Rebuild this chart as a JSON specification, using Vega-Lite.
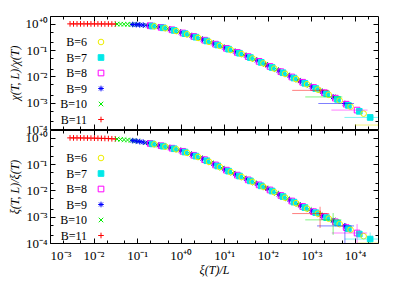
{
"$schema": "https://vega.github.io/schema/vega-lite/v6.json",
"padding": {"left": 7, "top": 15, "right": 5, "bottom": 2},
"background": "white",
"bounds": "flush",
"config": {
  "view": {"stroke": "#000000", "strokeWidth": 1},
  "axis": {"labelFont": "Liberation Serif", "titleFont": "Liberation Serif", "labelFontSize": 13, "titleFontSize": 12, "titleFontWeight": "normal", "labelColor": "#000000", "titleColor": "#000000", "tickColor": "#000000", "domain": false, "grid": false},
  "legend": {"labelFont": "Liberation Serif", "labelFontSize": 12, "labelColor": "#000000"}
},
"datasets": {
"pts": [
{"B":"11","lx":-2.54,"chi":0,"xi":0},{"B":"11","lx":-2.46,"chi":0,"xi":-0.001},{"B":"11","lx":-2.38,"chi":0,"xi":-0.002},{"B":"11","lx":-2.30,"chi":0,"xi":-0.003},{"B":"11","lx":-2.22,"chi":0,"xi":-0.005},{"B":"11","lx":-2.14,"chi":0,"xi":-0.007},{"B":"11","lx":-2.06,"chi":-0.001,"xi":-0.009},{"B":"11","lx":-1.98,"chi":-0.001,"xi":-0.011},{"B":"11","lx":-1.90,"chi":-0.002,"xi":-0.014},{"B":"11","lx":-1.82,"chi":-0.002,"xi":-0.017},{"B":"11","lx":-1.74,"chi":-0.003,"xi":-0.021},{"B":"11","lx":-1.66,"chi":-0.004,"xi":-0.026},{"B":"11","lx":-1.58,"chi":-0.005,"xi":-0.034},{"B":"11","lx":-1.50,"chi":-0.006,"xi":-0.040},{"B":"11","lx":1.95,"chi":-1.542,"xi":-1.902},{"B":"11","lx":2.28,"chi":-1.804,"xi":-2.175},{"B":"11","lx":2.70,"chi":-2.140,"xi":-2.528},{"B":"11","lx":3.20,"chi":-2.53,"xi":-2.88},
{"B":"10","lx":-1.46,"chi":-0.007,"xi":-0.046},{"B":"10","lx":-1.38,"chi":-0.010,"xi":-0.057},{"B":"10","lx":-1.30,"chi":-0.013,"xi":-0.068},{"B":"10","lx":-1.22,"chi":-0.017,"xi":-0.081},{"B":"10","lx":-1.14,"chi":-0.022,"xi":-0.097},{"B":"10","lx":-1.06,"chi":-0.026,"xi":-0.113},{"B":"10","lx":-0.98,"chi":-0.032,"xi":-0.131},{"B":"10","lx":-0.80,"chi":-0.054,"xi":-0.181},{"B":"10","lx":-0.55,"chi":-0.104,"xi":-0.263},{"B":"10","lx":-0.30,"chi":-0.183,"xi":-0.352},{"B":"10","lx":-0.05,"chi":-0.296,"xi":-0.458},{"B":"10","lx":0.20,"chi":-0.424,"xi":-0.600},{"B":"10","lx":0.45,"chi":-0.562,"xi":-0.758},{"B":"10","lx":0.70,"chi":-0.710,"xi":-0.950},{"B":"10","lx":0.95,"chi":-0.868,"xi":-1.150},{"B":"10","lx":1.20,"chi":-1.024,"xi":-1.342},{"B":"10","lx":1.45,"chi":-1.179,"xi":-1.524},{"B":"10","lx":1.70,"chi":-1.354,"xi":-1.712},{"B":"10","lx":1.95,"chi":-1.542,"xi":-1.902},{"B":"10","lx":2.20,"chi":-1.740,"xi":-2.108},{"B":"10","lx":2.45,"chi":-1.940,"xi":-2.318},{"B":"10","lx":2.70,"chi":-2.140,"xi":-2.528},{"B":"10","lx":2.95,"chi":-2.340,"xi":-2.730},{"B":"10","lx":3.20,"chi":-2.540,"xi":-2.922},{"B":"10","lx":3.50,"chi":-2.78,"xi":-3.12},
{"B":"9","lx":-1.10,"chi":-0.024,"xi":-0.105},{"B":"9","lx":-1.02,"chi":-0.029,"xi":-0.121},{"B":"9","lx":-0.94,"chi":-0.037,"xi":-0.142},{"B":"9","lx":-0.86,"chi":-0.047,"xi":-0.164},{"B":"9","lx":-0.75,"chi":-0.060,"xi":-0.195},{"B":"9","lx":-0.50,"chi":-0.115,"xi":-0.280},{"B":"9","lx":-0.25,"chi":-0.200,"xi":-0.370},{"B":"9","lx":0.00,"chi":-0.320,"xi":-0.480},{"B":"9","lx":0.25,"chi":-0.450,"xi":-0.630},{"B":"9","lx":0.50,"chi":-0.590,"xi":-0.790},{"B":"9","lx":0.75,"chi":-0.740,"xi":-0.990},{"B":"9","lx":1.00,"chi":-0.900,"xi":-1.190},{"B":"9","lx":1.25,"chi":-1.055,"xi":-1.380},{"B":"9","lx":1.50,"chi":-1.210,"xi":-1.560},{"B":"9","lx":1.75,"chi":-1.390,"xi":-1.750},{"B":"9","lx":2.00,"chi":-1.580,"xi":-1.940},{"B":"9","lx":2.25,"chi":-1.780,"xi":-2.150},{"B":"9","lx":2.50,"chi":-1.980,"xi":-2.360},{"B":"9","lx":2.75,"chi":-2.180,"xi":-2.570},{"B":"9","lx":3.00,"chi":-2.380,"xi":-2.770},{"B":"9","lx":3.25,"chi":-2.580,"xi":-2.960},{"B":"9","lx":3.50,"chi":-2.780,"xi":-3.150},{"B":"9","lx":3.77,"chi":-3.03,"xi":-3.35},
{"B":"8","lx":-0.70,"chi":-0.071,"xi":-0.212},{"B":"8","lx":-0.45,"chi":-0.132,"xi":-0.298},{"B":"8","lx":-0.20,"chi":-0.224,"xi":-0.392},{"B":"8","lx":0.05,"chi":-0.346,"xi":-0.510},{"B":"8","lx":0.30,"chi":-0.478,"xi":-0.662},{"B":"8","lx":0.55,"chi":-0.620,"xi":-0.830},{"B":"8","lx":0.80,"chi":-0.772,"xi":-1.030},{"B":"8","lx":1.05,"chi":-0.931,"xi":-1.228},{"B":"8","lx":1.30,"chi":-1.086,"xi":-1.416},{"B":"8","lx":1.55,"chi":-1.246,"xi":-1.598},{"B":"8","lx":1.80,"chi":-1.428,"xi":-1.788},{"B":"8","lx":2.05,"chi":-1.620,"xi":-1.982},{"B":"8","lx":2.30,"chi":-1.820,"xi":-2.192},{"B":"8","lx":2.55,"chi":-2.020,"xi":-2.402},{"B":"8","lx":2.80,"chi":-2.220,"xi":-2.610},{"B":"8","lx":3.05,"chi":-2.420,"xi":-2.808},{"B":"8","lx":3.30,"chi":-2.620,"xi":-2.998},{"B":"8","lx":3.55,"chi":-2.826,"xi":-3.194},{"B":"8","lx":3.80,"chi":-3.056,"xi":-3.412},{"B":"8","lx":4.05,"chi":-3.28,"xi":-3.62},
{"B":"7","lx":-0.65,"chi":-0.082,"xi":-0.229},{"B":"7","lx":-0.40,"chi":-0.149,"xi":-0.316},{"B":"7","lx":-0.15,"chi":-0.248,"xi":-0.414},{"B":"7","lx":0.10,"chi":-0.372,"xi":-0.540},{"B":"7","lx":0.35,"chi":-0.506,"xi":-0.694},{"B":"7","lx":0.60,"chi":-0.650,"xi":-0.870},{"B":"7","lx":0.85,"chi":-0.804,"xi":-1.070},{"B":"7","lx":1.10,"chi":-0.962,"xi":-1.266},{"B":"7","lx":1.35,"chi":-1.117,"xi":-1.452},{"B":"7","lx":1.60,"chi":-1.282,"xi":-1.636},{"B":"7","lx":1.85,"chi":-1.466,"xi":-1.826},{"B":"7","lx":2.10,"chi":-1.660,"xi":-2.024},{"B":"7","lx":2.35,"chi":-1.860,"xi":-2.234},{"B":"7","lx":2.60,"chi":-2.060,"xi":-2.444},{"B":"7","lx":2.85,"chi":-2.260,"xi":-2.650},{"B":"7","lx":3.10,"chi":-2.460,"xi":-2.846},{"B":"7","lx":3.35,"chi":-2.660,"xi":-3.036},{"B":"7","lx":3.60,"chi":-2.872,"xi":-3.238},{"B":"7","lx":3.85,"chi":-3.102,"xi":-3.454},{"B":"7","lx":4.10,"chi":-3.328,"xi":-3.660},{"B":"7","lx":4.35,"chi":-3.56,"xi":-3.85},
{"B":"6","lx":-0.60,"chi":-0.093,"xi":-0.246},{"B":"6","lx":-0.35,"chi":-0.166,"xi":-0.334},{"B":"6","lx":-0.10,"chi":-0.272,"xi":-0.436},{"B":"6","lx":0.15,"chi":-0.398,"xi":-0.570},{"B":"6","lx":0.40,"chi":-0.534,"xi":-0.726},{"B":"6","lx":0.65,"chi":-0.680,"xi":-0.910},{"B":"6","lx":0.90,"chi":-0.836,"xi":-1.110},{"B":"6","lx":1.15,"chi":-0.993,"xi":-1.304},{"B":"6","lx":1.40,"chi":-1.148,"xi":-1.488},{"B":"6","lx":1.65,"chi":-1.318,"xi":-1.674},{"B":"6","lx":1.90,"chi":-1.504,"xi":-1.864},{"B":"6","lx":2.15,"chi":-1.700,"xi":-2.066},{"B":"6","lx":2.40,"chi":-1.900,"xi":-2.276},{"B":"6","lx":2.65,"chi":-2.100,"xi":-2.486},{"B":"6","lx":2.90,"chi":-2.300,"xi":-2.690},{"B":"6","lx":3.15,"chi":-2.500,"xi":-2.884},{"B":"6","lx":3.40,"chi":-2.700,"xi":-3.074},{"B":"6","lx":3.65,"chi":-2.918,"xi":-3.282},{"B":"6","lx":3.90,"chi":-3.148,"xi":-3.496},{"B":"6","lx":4.20,"chi":-3.416,"xi":-3.740},{"B":"6","lx":4.60,"chi":-3.85,"xi":-4.0}
],
"err": [
{"B":"11","lx":3.2,"chi":-2.53,"xi":-2.88,"txlo":2.56,"txhi":3.40,"bxlo":2.56,"bxhi":3.41,"bylo":-3.43,"byhi":-2.62},
{"B":"10","lx":3.5,"chi":-2.78,"xi":-3.12,"txlo":2.86,"txhi":3.71,"bxlo":2.86,"bxhi":3.69,"bylo":-3.69,"byhi":-2.86},
{"B":"9","lx":3.77,"chi":-3.03,"xi":-3.35,"txlo":3.16,"txhi":3.98,"bxlo":3.13,"bxhi":3.98,"bylo":-4.5,"byhi":-3.24},
{"B":"8","lx":4.05,"chi":-3.28,"xi":-3.62,"txlo":3.46,"txhi":4.29,"bxlo":3.47,"bxhi":4.28,"bylo":-4.5,"byhi":-3.28},
{"B":"7","lx":4.35,"chi":-3.56,"xi":-3.85,"txlo":3.76,"txhi":4.6,"bxlo":3.77,"bxhi":4.6,"bylo":-4.5,"byhi":-3.6},
{"B":"6","lx":4.6,"chi":-3.85,"xi":-4.0,"txlo":4.0,"txhi":5.0,"bxlo":4.05,"bxhi":5.0,"bylo":-4.5,"byhi":-3.75}
]
},
"spacing": 1,
"resolve": {"legend": {"stroke": "independent", "fill": "independent", "shape": "independent"}},
"vconcat": [
{
 "width": 328, "height": 113,
 "resolve": {"axis": {"x": "independent", "y": "independent"}},
 "layer": [
  {"data": {"name": "pts"}, "mark": {"type": "point", "clip": true, "size": 32, "strokeWidth": 1, "opacity": 1},
   "encoding": {
    "x": {"field": "lx", "type": "quantitative", "scale": {"domain": [-3, 4.53], "nice": false, "zero": false}, "axis": {"orient": "bottom", "values": [-3,-2,-1,0,1,2,3,4], "labels": false, "ticks": false, "title": null}},
    "y": {"field": "chi", "type": "quantitative", "scale": {"domain": [-4, 0.3], "nice": false, "zero": false}, "axis": {"orient": "left", "values": [-4,-3,-2,-1,0], "ticks": false, "labelPadding": 3, "labelExpr": "'10' + (datum.value < 0 ? '⁻' : '⁺') + ['⁰','¹','²','³','⁴'][abs(datum.value)]", "title": "χ(T, L)/χ(T)", "titleFontStyle": "italic", "titlePadding": 4}},
    "stroke": {"field": "B", "type": "nominal", "scale": {"domain": ["6","7","8","9","10","11"], "range": ["#eeee00","#00e8e8","#ff00ff","#0000ff","#00ee00","#ff0000"]}, "legend": {"orient": "none", "legendX": 45, "legendY": 20, "title": null, "labelAlign": "right", "labelOffset": -20, "rowPadding": 3.5, "symbolSize": 32, "symbolStrokeWidth": 1, "labelExpr": "'B=' + datum.label", "encode": {"symbols": {"update": {"shape": {"signal": "datum.value == '6' ? 'M-2.5,0H-1M1,0H2.5M1,0A1,1 0 1,0 -1,0A1,1 0 1,0 1,0' : (datum.value == '7' || datum.value == '8') ? 'M-2.5,0H-1M1,0H2.5M-1,-1H1V1H-1Z' : datum.value == '9' ? 'M-2.5,0H2.5M0,-1V1M-0.7,-0.7L0.7,0.7M-0.7,0.7L0.7,-0.7' : datum.value == '10' ? 'M-2.5,0H2.5M-0.8,-0.8L0.8,0.8M-0.8,0.8L0.8,-0.8' : 'M-2.5,0H2.5M0,-1V1'"}}}}}},
    "fill": {"field": "B", "type": "nominal", "scale": {"domain": ["6","7","8","9","10","11"], "range": ["transparent","#00e8e8","transparent","transparent","transparent","transparent"]}, "legend": {"orient": "none", "legendX": 45, "legendY": 20, "title": null, "labelAlign": "right", "labelOffset": -20, "rowPadding": 3.5, "symbolSize": 32, "symbolStrokeWidth": 1, "labelExpr": "'B=' + datum.label", "encode": {"symbols": {"update": {"shape": {"signal": "datum.value == '6' ? 'M-2.5,0H-1M1,0H2.5M1,0A1,1 0 1,0 -1,0A1,1 0 1,0 1,0' : (datum.value == '7' || datum.value == '8') ? 'M-2.5,0H-1M1,0H2.5M-1,-1H1V1H-1Z' : datum.value == '9' ? 'M-2.5,0H2.5M0,-1V1M-0.7,-0.7L0.7,0.7M-0.7,0.7L0.7,-0.7' : datum.value == '10' ? 'M-2.5,0H2.5M-0.8,-0.8L0.8,0.8M-0.8,0.8L0.8,-0.8' : 'M-2.5,0H2.5M0,-1V1'"}}}}}},
    "shape": {"field": "B", "type": "nominal", "scale": {"domain": ["6","7","8","9","10","11"], "range": ["circle","square","square","M-1,0L1,0M0,-1L0,1M-0.7,-0.7L0.7,0.7M-0.7,0.7L0.7,-0.7","M-0.8,-0.8L0.8,0.8M-0.8,0.8L0.8,-0.8","M-1,0L1,0M0,-1L0,1"]}, "legend": {"orient": "none", "legendX": 45, "legendY": 20, "title": null, "labelAlign": "right", "labelOffset": -20, "rowPadding": 3.5, "symbolSize": 32, "symbolStrokeWidth": 1, "labelExpr": "'B=' + datum.label", "encode": {"symbols": {"update": {"shape": {"signal": "datum.value == '6' ? 'M-2.5,0H-1M1,0H2.5M1,0A1,1 0 1,0 -1,0A1,1 0 1,0 1,0' : (datum.value == '7' || datum.value == '8') ? 'M-2.5,0H-1M1,0H2.5M-1,-1H1V1H-1Z' : datum.value == '9' ? 'M-2.5,0H2.5M0,-1V1M-0.7,-0.7L0.7,0.7M-0.7,0.7L0.7,-0.7' : datum.value == '10' ? 'M-2.5,0H2.5M-0.8,-0.8L0.8,0.8M-0.8,0.8L0.8,-0.8' : 'M-2.5,0H2.5M0,-1V1'"}}}}}}
   }},
  {"data": {"name": "err"}, "mark": {"type": "rule", "clip": true, "strokeWidth": 1, "opacity": 0.5},
   "encoding": {
    "x": {"field": "txlo", "type": "quantitative", "scale": {"domain": [-3, 4.53], "nice": false, "zero": false}, "axis": null},
    "x2": {"field": "txhi"},
    "y": {"field": "chi", "type": "quantitative", "scale": {"domain": [-4, 0.3], "nice": false, "zero": false}, "axis": null},
    "color": {"field": "B", "type": "nominal", "scale": {"domain": ["6","7","8","9","10","11"], "range": ["#eeee00","#00e8e8","#ff00ff","#0000ff","#00ee00","#ff0000"]}, "legend": null}
   }},
  {"data": {"name": "err"}, "mark": {"type": "point", "opacity": 0},
   "encoding": {
    "x": {"field": "lx", "type": "quantitative", "scale": {"domain": [-3, 4.53], "nice": false, "zero": false}, "axis": {"orient": "top", "values": [-3,-2,-1,0,1,2,3,4], "labels": false, "tickSize": -5, "title": null}},
    "y": {"field": "chi", "type": "quantitative", "scale": {"domain": [-4, 0.3], "nice": false, "zero": false}, "axis": {"orient": "right", "values": [-4,-3,-2,-1,0], "labels": false, "tickSize": -5, "title": null}}
   }},
  {"data": {"name": "err"}, "mark": {"type": "point", "opacity": 0},
   "encoding": {
    "x": {"field": "lx", "type": "quantitative", "scale": {"domain": [-3, 4.53], "nice": false, "zero": false}, "axis": {"orient": "bottom", "values": [-3,-2,-1,0,1,2,3,4], "labels": false, "tickSize": -5, "title": null}},
    "y": {"field": "chi", "type": "quantitative", "scale": {"domain": [-4, 0.3], "nice": false, "zero": false}, "axis": {"orient": "left", "values": [-4,-3,-2,-1,0], "labels": false, "tickSize": -5, "title": null}}
   }},
  {"data": {"name": "err"}, "mark": {"type": "point", "opacity": 0},
   "encoding": {
    "x": {"field": "lx", "type": "quantitative", "scale": {"domain": [-3, 4.53], "nice": false, "zero": false}, "axis": {"orient": "bottom", "values": [-2.699,-2.301,-1.699,-1.301,-0.699,-0.301,0.301,0.699,1.301,1.699,2.301,2.699,3.301,3.699,4.301], "labels": false, "tickSize": -3, "title": null}},
    "y": {"field": "chi", "type": "quantitative", "scale": {"domain": [-4, 0.3], "nice": false, "zero": false}, "axis": {"orient": "left", "values": [-3.699,-3.301,-2.699,-2.301,-1.699,-1.301,-0.699,-0.301], "labels": false, "tickSize": -3, "title": null}}
   }},
  {"data": {"name": "err"}, "mark": {"type": "point", "opacity": 0},
   "encoding": {
    "x": {"field": "lx", "type": "quantitative", "scale": {"domain": [-3, 4.53], "nice": false, "zero": false}, "axis": {"orient": "top", "values": [-2.699,-2.301,-1.699,-1.301,-0.699,-0.301,0.301,0.699,1.301,1.699,2.301,2.699,3.301,3.699,4.301], "labels": false, "tickSize": -3, "title": null}},
    "y": {"field": "chi", "type": "quantitative", "scale": {"domain": [-4, 0.3], "nice": false, "zero": false}, "axis": {"orient": "right", "values": [-3.699,-3.301,-2.699,-2.301,-1.699,-1.301,-0.699,-0.301], "labels": false, "tickSize": -3, "title": null}}
   }}
 ]
},
{
 "width": 328, "height": 113,
 "resolve": {"axis": {"x": "independent", "y": "independent"}},
 "layer": [
  {"data": {"name": "pts"}, "mark": {"type": "point", "clip": true, "size": 32, "strokeWidth": 1, "opacity": 1},
   "encoding": {
    "x": {"field": "lx", "type": "quantitative", "scale": {"domain": [-3, 4.53], "nice": false, "zero": false}, "axis": {"orient": "bottom", "values": [-3,-2,-1,0,1,2,3,4], "ticks": false, "labelPadding": 6, "labelExpr": "'10' + (datum.value < 0 ? '⁻' : '⁺') + ['⁰','¹','²','³','⁴'][abs(datum.value)]", "title": "ξ(T)/L", "titleFontStyle": "italic", "titlePadding": 2}},
    "y": {"field": "xi", "type": "quantitative", "scale": {"domain": [-4, 0.3], "nice": false, "zero": false}, "axis": {"orient": "left", "values": [-4,-3,-2,-1,0], "ticks": false, "labelPadding": 3, "labelExpr": "'10' + (datum.value < 0 ? '⁻' : '⁺') + ['⁰','¹','²','³','⁴'][abs(datum.value)]", "title": "ξ(T, L)/ξ(T)", "titleFontStyle": "italic", "titlePadding": 4}},
    "stroke": {"field": "B", "type": "nominal", "scale": {"domain": ["6","7","8","9","10","11"], "range": ["#eeee00","#00e8e8","#ff00ff","#0000ff","#00ee00","#ff0000"]}, "legend": {"orient": "none", "legendX": 45, "legendY": 22, "title": null, "labelAlign": "right", "labelOffset": -20, "rowPadding": 3.5, "symbolSize": 32, "symbolStrokeWidth": 1, "labelExpr": "'B=' + datum.label", "encode": {"symbols": {"update": {"shape": {"signal": "datum.value == '6' ? 'M-2.5,0H-1M1,0H2.5M1,0A1,1 0 1,0 -1,0A1,1 0 1,0 1,0' : (datum.value == '7' || datum.value == '8') ? 'M-2.5,0H-1M1,0H2.5M-1,-1H1V1H-1Z' : datum.value == '9' ? 'M-2.5,0H2.5M0,-1V1M-0.7,-0.7L0.7,0.7M-0.7,0.7L0.7,-0.7' : datum.value == '10' ? 'M-2.5,0H2.5M-0.8,-0.8L0.8,0.8M-0.8,0.8L0.8,-0.8' : 'M-2.5,0H2.5M0,-1V1'"}}}}}},
    "fill": {"field": "B", "type": "nominal", "scale": {"domain": ["6","7","8","9","10","11"], "range": ["transparent","#00e8e8","transparent","transparent","transparent","transparent"]}, "legend": {"orient": "none", "legendX": 45, "legendY": 22, "title": null, "labelAlign": "right", "labelOffset": -20, "rowPadding": 3.5, "symbolSize": 32, "symbolStrokeWidth": 1, "labelExpr": "'B=' + datum.label", "encode": {"symbols": {"update": {"shape": {"signal": "datum.value == '6' ? 'M-2.5,0H-1M1,0H2.5M1,0A1,1 0 1,0 -1,0A1,1 0 1,0 1,0' : (datum.value == '7' || datum.value == '8') ? 'M-2.5,0H-1M1,0H2.5M-1,-1H1V1H-1Z' : datum.value == '9' ? 'M-2.5,0H2.5M0,-1V1M-0.7,-0.7L0.7,0.7M-0.7,0.7L0.7,-0.7' : datum.value == '10' ? 'M-2.5,0H2.5M-0.8,-0.8L0.8,0.8M-0.8,0.8L0.8,-0.8' : 'M-2.5,0H2.5M0,-1V1'"}}}}}},
    "shape": {"field": "B", "type": "nominal", "scale": {"domain": ["6","7","8","9","10","11"], "range": ["circle","square","square","M-1,0L1,0M0,-1L0,1M-0.7,-0.7L0.7,0.7M-0.7,0.7L0.7,-0.7","M-0.8,-0.8L0.8,0.8M-0.8,0.8L0.8,-0.8","M-1,0L1,0M0,-1L0,1"]}, "legend": {"orient": "none", "legendX": 45, "legendY": 22, "title": null, "labelAlign": "right", "labelOffset": -20, "rowPadding": 3.5, "symbolSize": 32, "symbolStrokeWidth": 1, "labelExpr": "'B=' + datum.label", "encode": {"symbols": {"update": {"shape": {"signal": "datum.value == '6' ? 'M-2.5,0H-1M1,0H2.5M1,0A1,1 0 1,0 -1,0A1,1 0 1,0 1,0' : (datum.value == '7' || datum.value == '8') ? 'M-2.5,0H-1M1,0H2.5M-1,-1H1V1H-1Z' : datum.value == '9' ? 'M-2.5,0H2.5M0,-1V1M-0.7,-0.7L0.7,0.7M-0.7,0.7L0.7,-0.7' : datum.value == '10' ? 'M-2.5,0H2.5M-0.8,-0.8L0.8,0.8M-0.8,0.8L0.8,-0.8' : 'M-2.5,0H2.5M0,-1V1'"}}}}}}
   }},
  {"data": {"name": "err"}, "mark": {"type": "rule", "clip": true, "strokeWidth": 1, "opacity": 0.5},
   "encoding": {
    "x": {"field": "bxlo", "type": "quantitative", "scale": {"domain": [-3, 4.53], "nice": false, "zero": false}, "axis": null},
    "x2": {"field": "bxhi"},
    "y": {"field": "xi", "type": "quantitative", "scale": {"domain": [-4, 0.3], "nice": false, "zero": false}, "axis": null},
    "color": {"field": "B", "type": "nominal", "scale": {"domain": ["6","7","8","9","10","11"], "range": ["#eeee00","#00e8e8","#ff00ff","#0000ff","#00ee00","#ff0000"]}, "legend": null}
   }},
  {"data": {"name": "err"}, "mark": {"type": "rule", "clip": true, "strokeWidth": 1, "opacity": 0.5},
   "encoding": {
    "x": {"field": "lx", "type": "quantitative", "scale": {"domain": [-3, 4.53], "nice": false, "zero": false}, "axis": null},
    "y": {"field": "bylo", "type": "quantitative", "scale": {"domain": [-4, 0.3], "nice": false, "zero": false}, "axis": null},
    "y2": {"field": "byhi"},
    "color": {"field": "B", "type": "nominal", "scale": {"domain": ["6","7","8","9","10","11"], "range": ["#eeee00","#00e8e8","#ff00ff","#0000ff","#00ee00","#ff0000"]}, "legend": null}
   }},
  {"data": {"name": "err"}, "mark": {"type": "point", "opacity": 0},
   "encoding": {
    "x": {"field": "lx", "type": "quantitative", "scale": {"domain": [-3, 4.53], "nice": false, "zero": false}, "axis": {"orient": "top", "values": [-3,-2,-1,0,1,2,3,4], "labels": false, "tickSize": -5, "title": null}},
    "y": {"field": "xi", "type": "quantitative", "scale": {"domain": [-4, 0.3], "nice": false, "zero": false}, "axis": {"orient": "right", "values": [-4,-3,-2,-1,0], "labels": false, "tickSize": -5, "title": null}}
   }},
  {"data": {"name": "err"}, "mark": {"type": "point", "opacity": 0},
   "encoding": {
    "x": {"field": "lx", "type": "quantitative", "scale": {"domain": [-3, 4.53], "nice": false, "zero": false}, "axis": {"orient": "bottom", "values": [-3,-2,-1,0,1,2,3,4], "labels": false, "tickSize": -5, "title": null}},
    "y": {"field": "xi", "type": "quantitative", "scale": {"domain": [-4, 0.3], "nice": false, "zero": false}, "axis": {"orient": "left", "values": [-4,-3,-2,-1,0], "labels": false, "tickSize": -5, "title": null}}
   }},
  {"data": {"name": "err"}, "mark": {"type": "point", "opacity": 0},
   "encoding": {
    "x": {"field": "lx", "type": "quantitative", "scale": {"domain": [-3, 4.53], "nice": false, "zero": false}, "axis": {"orient": "bottom", "values": [-2.699,-2.301,-1.699,-1.301,-0.699,-0.301,0.301,0.699,1.301,1.699,2.301,2.699,3.301,3.699,4.301], "labels": false, "tickSize": -3, "title": null}},
    "y": {"field": "xi", "type": "quantitative", "scale": {"domain": [-4, 0.3], "nice": false, "zero": false}, "axis": {"orient": "left", "values": [-3.699,-3.301,-2.699,-2.301,-1.699,-1.301,-0.699,-0.301], "labels": false, "tickSize": -3, "title": null}}
   }},
  {"data": {"name": "err"}, "mark": {"type": "point", "opacity": 0},
   "encoding": {
    "x": {"field": "lx", "type": "quantitative", "scale": {"domain": [-3, 4.53], "nice": false, "zero": false}, "axis": {"orient": "top", "values": [-2.699,-2.301,-1.699,-1.301,-0.699,-0.301,0.301,0.699,1.301,1.699,2.301,2.699,3.301,3.699,4.301], "labels": false, "tickSize": -3, "title": null}},
    "y": {"field": "xi", "type": "quantitative", "scale": {"domain": [-4, 0.3], "nice": false, "zero": false}, "axis": {"orient": "right", "values": [-3.699,-3.301,-2.699,-2.301,-1.699,-1.301,-0.699,-0.301], "labels": false, "tickSize": -3, "title": null}}
   }}
 ]
}
]
}
